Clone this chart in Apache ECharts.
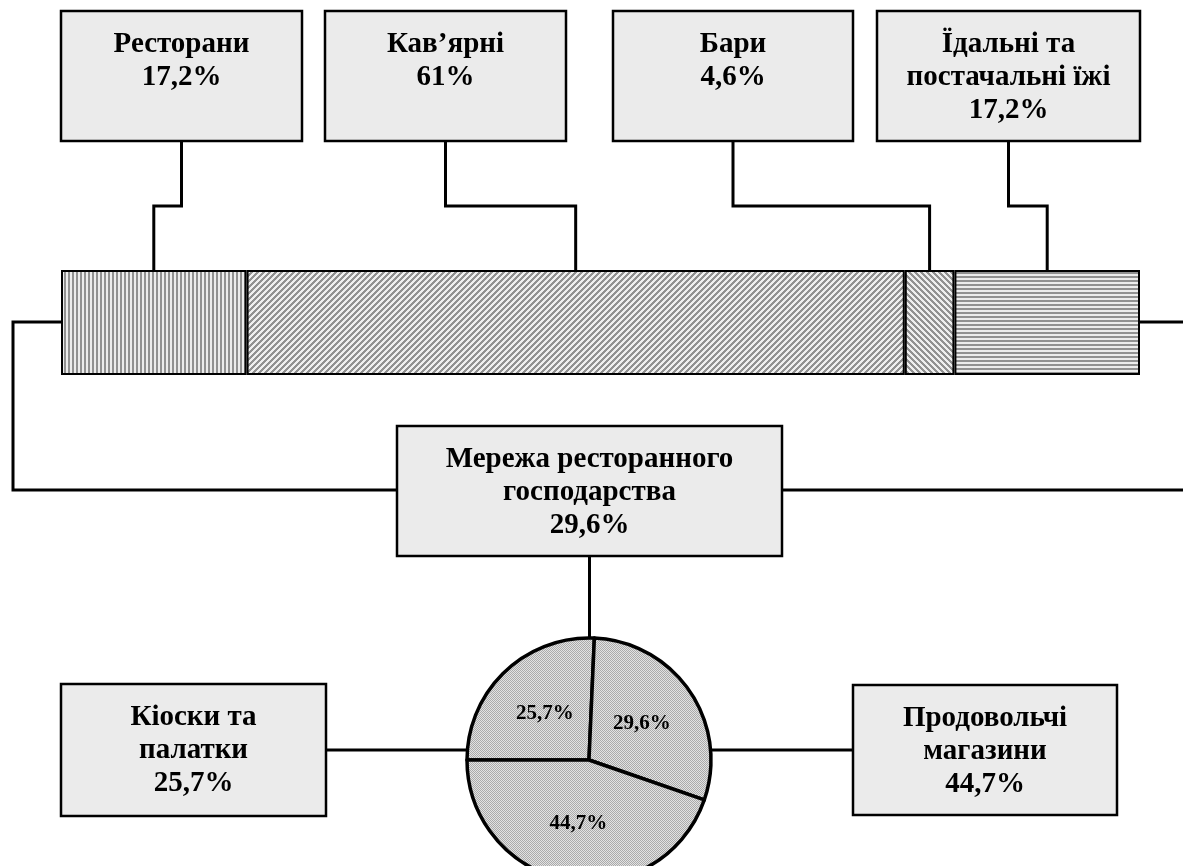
<!DOCTYPE html>
<html>
<head>
<meta charset="utf-8">
<script src="https://cdn.jsdelivr.net/npm/echarts@6/dist/echarts.min.js"></script>
<style>
html,body{margin:0;padding:0;background:#fff;}
#chart{width:1183px;height:866px;}
</style>
</head>
<body>
<div id="chart"></div>
<script>
// ---- data ----
const barCategories = ['Ресторани', 'Кав’ярні', 'Бари', 'Їдальні та\nпостачальні їжі'];
const barValues = [17.2, 61, 4.6, 17.2];
const pieCategories = ['Кіоски та\nпалатки', 'Мережа ресторанного\nгосподарства', 'Продовольчі\nмагазини'];
const pieValues = [25.7, 29.6, 44.7];

// ---- layout ----
const FONT = '"Liberation Serif", "Times New Roman", serif';
const gridBox = {left: 61, top: 270, width: 1079, height: 105};
const topBoxes = [[61, 11, 241, 130], [325, 11, 241, 130], [613, 11, 240, 130], [877, 11, 263, 130]];
const pieBoxes = [[61, 684, 265, 132], [397, 426, 385, 130], [853, 685, 264, 130]];
const pieCenter = [589, 760];
const pieRadius = 122;
const jogY = 206;
const sideY = 322;
const netY = 490;

function fmt(v) { return String(v).replace('.', ','); }

function pattern(fn, w, h, dark, light) {
  const c = document.createElement('canvas');
  c.width = w; c.height = h;
  const ctx = c.getContext('2d');
  const img = ctx.createImageData(w, h);
  for (let y = 0; y < h; y++) for (let x = 0; x < w; x++) {
    const col = fn(x, y) ? dark : light;
    const k = (y * w + x) * 4;
    img.data[k] = col; img.data[k + 1] = col; img.data[k + 2] = col; img.data[k + 3] = 255;
  }
  ctx.putImageData(img, 0, 0);
  return c;
}
const patterns = [
  pattern((x, y) => x % 4 < 2, 4, 4, 145, 236),
  pattern((x, y) => (x + y) % 6 < 3, 6, 6, 145, 238),
  pattern((x, y) => (x - y + 12) % 6 < 3, 6, 6, 145, 238),
  pattern((x, y) => y % 4 < 2, 4, 4, 145, 236)
];
const piePattern = pattern((x, y) => (x + y) % 2 === 0, 4, 4, 170, 226);

const chart = echarts.init(document.getElementById('chart'), null, {renderer: 'canvas'});

chart.setOption({
  animation: false,
  backgroundColor: '#fff',
  grid: gridBox,
  xAxis: {type: 'value', min: 0, max: 100, show: false},
  yAxis: {type: 'category', data: ['Мережа ресторанного господарства'], show: false},
  series: barCategories.map((name, i) => ({
    type: 'bar', name: name, stack: 'total', barWidth: '100%', silent: true,
    data: [barValues[i]],
    itemStyle: {color: {image: patterns[i], repeat: 'repeat'}, borderColor: '#000', borderWidth: 2}
  })).concat([{
    type: 'pie', center: pieCenter, radius: pieRadius, startAngle: 180, clockwise: true, silent: true,
    data: pieCategories.map((n, i) => ({name: n, value: pieValues[i]})),
    label: {show: true, position: 'inner', formatter: p => fmt(p.value) + '%',
      fontFamily: FONT, fontWeight: 'bold', fontSize: 21, color: '#000'},
    labelLine: {show: false},
    itemStyle: {color: {image: piePattern, repeat: 'repeat'}, borderColor: '#000', borderWidth: 3.5}
  }])
});

// ---- annotation boxes and connectors ----
const graphics = [];
function line(points) {
  graphics.push({type: 'polyline', shape: {points: points}, style: {stroke: '#000', lineWidth: 3, fill: null}, z: 10, silent: true});
}
function box(b, text) {
  graphics.push({type: 'rect', shape: {x: b[0], y: b[1], width: b[2], height: b[3]},
    style: {fill: '#ebebeb', stroke: '#000', lineWidth: 2.5}, z: 20, silent: true});
  graphics.push({type: 'text', x: b[0] + b[2] / 2, y: b[1] + 17, z: 21, silent: true,
    style: {text: text, align: 'center', verticalAlign: 'top', fill: '#000',
      fontFamily: FONT, fontWeight: 'bold', fontSize: 29, lineHeight: 33}});
}

let cum = 0;
barCategories.forEach((name, i) => {
  const mid = cum + barValues[i] / 2;
  cum += barValues[i];
  const px = chart.convertToPixel({xAxisIndex: 0, yAxisIndex: 0}, [mid, 0])[0];
  const b = topBoxes[i];
  const bx = b[0] + b[2] / 2;
  line([[bx, b[1] + b[3]], [bx, jogY], [px, jogY], [px, gridBox.top]]);
  box(b, name + '\n' + fmt(barValues[i]) + '%');
});

const leftX = chart.convertToPixel({xAxisIndex: 0, yAxisIndex: 0}, [0, 0])[0];
const rightX = chart.convertToPixel({xAxisIndex: 0, yAxisIndex: 0}, [100, 0])[0];
const net = pieBoxes[1];
line([[leftX, sideY], [13, sideY], [13, netY], [net[0], netY]]);
line([[rightX, sideY], [1195, sideY], [1195, netY], [net[0] + net[2], netY]]);

// pie connectors
const cx = pieCenter[0], cy = pieCenter[1], r = pieRadius;
const kb = pieBoxes[0], pb = pieBoxes[2];
const yk = kb[1] + kb[3] / 2;
const yp = pb[1] + pb[3] / 2;
line([[kb[0] + kb[2], yk], [cx - Math.sqrt(r * r - (cy - yk) * (cy - yk)), yk]]);
line([[pb[0], yp], [cx + Math.sqrt(r * r - (cy - yp) * (cy - yp)), yp]]);
line([[net[0] + net[2] / 2, net[1] + net[3]], [net[0] + net[2] / 2, cy - r]]);

pieCategories.forEach((name, i) => box(pieBoxes[i], name + '\n' + fmt(pieValues[i]) + '%'));

chart.setOption({graphic: graphics});
</script>
</body>
</html>
